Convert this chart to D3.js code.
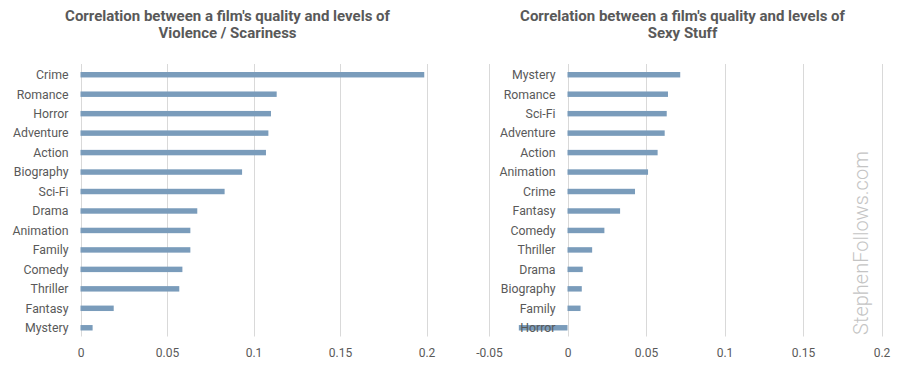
<!DOCTYPE html>
<html>
<head>
<meta charset="utf-8">
<script src="https://cdn.jsdelivr.net/npm/d3@7"></script>
<style>
  body { margin: 0; background: #fff; }
  text { font-family: Roboto, "Noto Sans", sans-serif; }
</style>
</head>
<body>
<svg id="chart" width="900" height="372"></svg>
<script>
'use strict';

// left panel: violence / scariness
var violenceGenres = ['Crime', 'Romance', 'Horror', 'Adventure', 'Action', 'Biography', 'Sci-Fi',
                      'Drama', 'Animation', 'Family', 'Comedy', 'Thriller', 'Fantasy', 'Mystery'];
var violenceValues = [0.1987, 0.1134, 0.1101, 0.1086, 0.1072, 0.0934, 0.0833,
                      0.0675, 0.0635, 0.0635, 0.0589, 0.0571, 0.0192, 0.0070];
var violenceTicks = [0, 0.05, 0.1, 0.15, 0.2];

// right panel: sexy stuff
var sexGenres = ['Mystery', 'Romance', 'Sci-Fi', 'Adventure', 'Action', 'Animation', 'Crime',
                 'Fantasy', 'Comedy', 'Thriller', 'Drama', 'Biography', 'Family', 'Horror'];
var sexValues = [0.0718, 0.0640, 0.0632, 0.0619, 0.0574, 0.0513, 0.0430,
                 0.0335, 0.0235, 0.0157, 0.0097, 0.0091, 0.0083, -0.0310];
var sexTicks = [-0.05, 0, 0.05, 0.1, 0.15, 0.2];

var titles = [
  ['Correlation between a film\'s quality and levels of', 'Violence / Scariness'],
  ['Correlation between a film\'s quality and levels of', 'Sexy Stuff']
];

var bar_color = '#7a9cbb',
    grid_color = '#d9d9d9',
    text_color = '#595959';

var svg = d3.select('#chart');

function drawPanel(opts) {
  var g = svg.append('g');

  var x = d3.scaleLinear()
    .domain([opts.ticks[0], opts.ticks[opts.ticks.length - 1]])
    .range([opts.left, opts.right]);

  var y = d3.scaleBand()
    .domain(opts.genres)
    .range([65, 337.5])
    .paddingInner(0.72)
    .paddingOuter(0.36);

  // title, two lines
  g.append('text')
    .attr('x', opts.titleX)
    .attr('y', 20.5)
    .attr('text-anchor', 'middle')
    .attr('font-size', 15)
    .attr('font-weight', 'bold')
    .attr('fill', text_color)
    .text(opts.title[0]);
  g.append('text')
    .attr('x', opts.titleX)
    .attr('y', 38)
    .attr('text-anchor', 'middle')
    .attr('font-size', 15)
    .attr('font-weight', 'bold')
    .attr('fill', text_color)
    .text(opts.title[1]);

  // vertical gridlines
  g.selectAll('.grid')
    .data(opts.ticks)
  .enter().append('line')
    .attr('class', 'grid')
    .attr('x1', function(d) { return Math.round(x(d)) + 0.5; })
    .attr('x2', function(d) { return Math.round(x(d)) + 0.5; })
    .attr('y1', 64)
    .attr('y2', 336.5)
    .attr('stroke', grid_color)
    .attr('stroke-width', 1);

  // x axis tick labels
  var axis = d3.axisBottom(x)
    .tickValues(opts.ticks)
    .tickSize(0)
    .tickPadding(0)
    .tickFormat(function(d) { return String(d); });

  var ax = g.append('g')
    .attr('transform', 'translate(0,348)')
    .call(axis);
  ax.select('.domain').remove();
  ax.selectAll('text')
    .attr('font-size', 12)
    .attr('font-family', 'Roboto, "Noto Sans", sans-serif')
    .attr('fill', text_color)
    .attr('dy', '0.71em');

  // bars
  g.selectAll('.bar')
    .data(opts.values)
  .enter().append('rect')
    .attr('class', 'bar')
    .attr('x', function(d) { return x(Math.min(0, d)); })
    .attr('y', function(d, i) { return y(opts.genres[i]); })
    .attr('width', function(d) { return Math.abs(x(d) - x(0)); })
    .attr('height', y.bandwidth())
    .attr('fill', bar_color);

  // category labels (on top, so the negative bar doesn't hide its label)
  g.selectAll('.cat')
    .data(opts.genres)
  .enter().append('text')
    .attr('class', 'cat')
    .attr('x', x(0) - 12)
    .attr('y', function(d) { return y(d) + y.bandwidth() / 2; })
    .attr('dy', '0.35em')
    .attr('text-anchor', 'end')
    .attr('font-size', 12.3)
    .attr('fill', text_color)
    .text(function(d) { return d; });
}

drawPanel({
  genres: violenceGenres,
  values: violenceValues,
  ticks: violenceTicks,
  left: 80.5,
  right: 426.5,
  titleX: 227.5,
  title: titles[0]
});

drawPanel({
  genres: sexGenres,
  values: sexValues,
  ticks: sexTicks,
  left: 489,
  right: 881.5,
  titleX: 682.5,
  title: titles[1]
});

// watermark
svg.append('text')
  .attr('transform', 'translate(868,243) rotate(-90)')
  .attr('text-anchor', 'middle')
  .attr('font-size', 20)
  .attr('font-weight', 300)
  .attr('fill', '#c4c4c4')
  .text('StephenFollows.com');
</script>
</body>
</html>
